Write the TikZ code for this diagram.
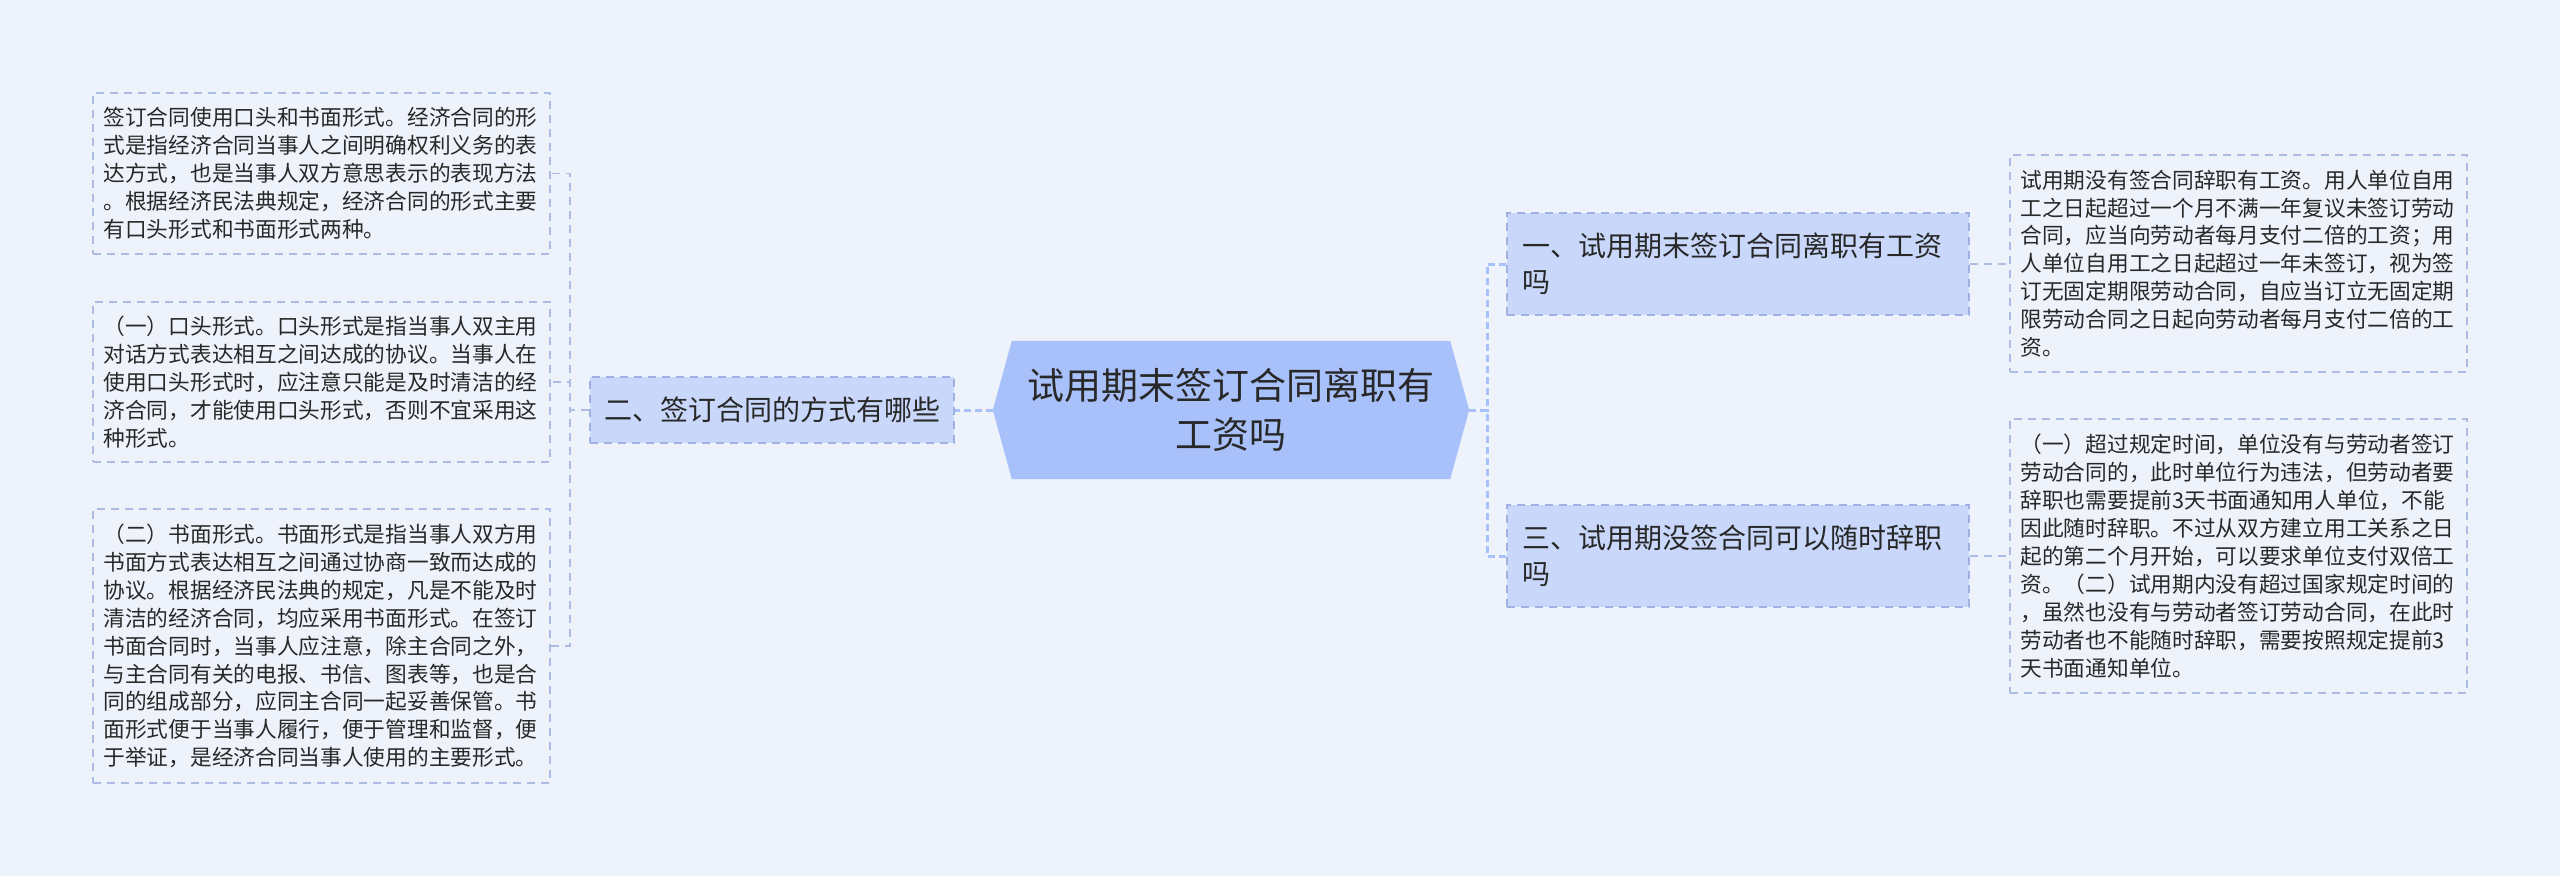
\documentclass[tikz,border=0pt]{standalone}
\usepackage{fontspec}
\setmainfont{Noto Sans CJK SC}
\usetikzlibrary{backgrounds,calc}
\definecolor{bgc}{RGB}{238,242,251}
\definecolor{cfill}{RGB}{169,193,250}
\definecolor{sfill}{RGB}{201,216,250}
\definecolor{sline}{RGB}{160,178,228}
\definecolor{lline}{RGB}{172,188,228}
\definecolor{txt}{RGB}{40,40,40}
\tikzset{
  leafbox/.style={draw=lline, line width=1.5pt, dash pattern=on 8pt off 6pt,
    text=txt, align=left, text width=436pt, inner xsep=10.5pt, inner ysep=0pt,
    minimum width=457pt, font=\fontsize{21.7}{27.9}\selectfont},
  subbox/.style={draw=sline, fill=sfill, line width=1.5pt, dash pattern=on 8pt off 6pt,
    text=txt, align=left, font=\fontsize{28}{36}\selectfont, inner ysep=0pt},
  centrebox/.style={text=txt, align=center, font=\fontsize{37}{49}\selectfont,
    minimum width=476pt, minimum height=138pt, inner sep=0pt},
  mainconn/.style={draw=cfill, line width=3pt, dash pattern=on 7pt off 4pt},
  leafconn/.style={draw=lline, line width=1.5pt, dash pattern=on 8pt off 6pt}
}
\begin{document}
\begin{tikzpicture}[x=1pt,y=-1pt]
\useasboundingbox (0,0) rectangle (2560,876);

% central node
\node[centrebox] (c) at (1231,410) {试用期末签订合同离职有\\工资吗};
\begin{scope}[on background layer]
\fill[bgc] (0,0) rectangle (2560,876);
\fill[cfill] (c.west) -- ($(c.north west)+(19,0)$) -- ($(c.north east)+(-19,0)$)
  -- (c.east) -- ($(c.south east)+(-19,0)$) -- ($(c.south west)+(19,0)$) -- cycle;
\end{scope}

% second level
\node[subbox, minimum width=364pt, minimum height=66pt, inner xsep=14pt] (n2) at (772,410) {二、签订合同的方式有哪些};
\node[subbox, text width=432pt, inner xsep=15pt, minimum height=102pt] (n1) at (1738,264) {一、试用期末签订合同离职有工资\\吗};
\node[subbox, text width=432pt, inner xsep=15pt, minimum height=102pt] (n3) at (1738,556) {三、试用期没签合同可以随时辞职\\吗};

% left leaves
\node[leafbox, minimum height=161pt] (l1) at (321.5,173.5) {签订合同使用口头和书面形式。经济合同的形\\%
式是指经济合同当事人之间明确权利义务的表\\%
达方式，也是当事人双方意思表示的表现方法\\%
。根据经济民法典规定，经济合同的形式主要\\%
有口头形式和书面形式两种。};
\node[leafbox, minimum height=160pt] (l2) at (321.5,382) {（一）口头形式。口头形式是指当事人双主用\\%
对话方式表达相互之间达成的协议。当事人在\\%
使用口头形式时，应注意只能是及时清洁的经\\%
济合同，才能使用口头形式，否则不宜采用这\\%
种形式。};
\node[leafbox, minimum height=274pt] (l3) at (321.5,646) {（二）书面形式。书面形式是指当事人双方用\\%
书面方式表达相互之间通过协商一致而达成的\\%
协议。根据经济民法典的规定，凡是不能及时\\%
清洁的经济合同，均应采用书面形式。在签订\\%
书面合同时，当事人应注意，除主合同之外，\\%
与主合同有关的电报、书信、图表等，也是合\\%
同的组成部分，应同主合同一起妥善保管。书\\%
面形式便于当事人履行，便于管理和监督，便\\%
于举证，是经济合同当事人使用的主要形式。};

% right leaves
\node[leafbox, minimum height=217pt] (r1) at (2238.5,263.5) {试用期没有签合同辞职有工资。用人单位自用\\%
工之日起超过一个月不满一年复议未签订劳动\\%
合同，应当向劳动者每月支付二倍的工资；用\\%
人单位自用工之日起超过一年未签订，视为签\\%
订无固定期限劳动合同，自应当订立无固定期\\%
限劳动合同之日起向劳动者每月支付二倍的工\\%
资。};
\node[leafbox, minimum height=274pt] (r2) at (2238.5,556) {（一）超过规定时间，单位没有与劳动者签订\\%
劳动合同的，此时单位行为违法，但劳动者要\\%
辞职也需要提前3天书面通知用人单位，不能\\%
因此随时辞职。不过从双方建立用工关系之日\\%
起的第二个月开始，可以要求单位支付双倍工\\%
资。（二）试用期内没有超过国家规定时间的\\%
，虽然也没有与劳动者签订劳动合同，在此时\\%
劳动者也不能随时辞职，需要按照规定提前3\\%
天书面通知单位。};

% connectors
\coordinate (spR) at (1487,410);
\coordinate (spL) at (570,410);
\draw[mainconn] (c.west) -- (n2.east);
\draw[mainconn] (c.east) -- (spR) |- (n1.west);
\draw[mainconn] (c.east) -- (spR) |- (n3.west);
\draw[leafconn] (n2.west) -- (spL) |- (l1.east);
\draw[leafconn] (n2.west) -- (spL) |- (l2.east);
\draw[leafconn] (n2.west) -- (spL) |- (l3.east);
\draw[leafconn] (n1.east) -- (n1.east -| r1.west);
\draw[leafconn] (n3.east) -- (n3.east -| r2.west);
\end{tikzpicture}
\end{document}
